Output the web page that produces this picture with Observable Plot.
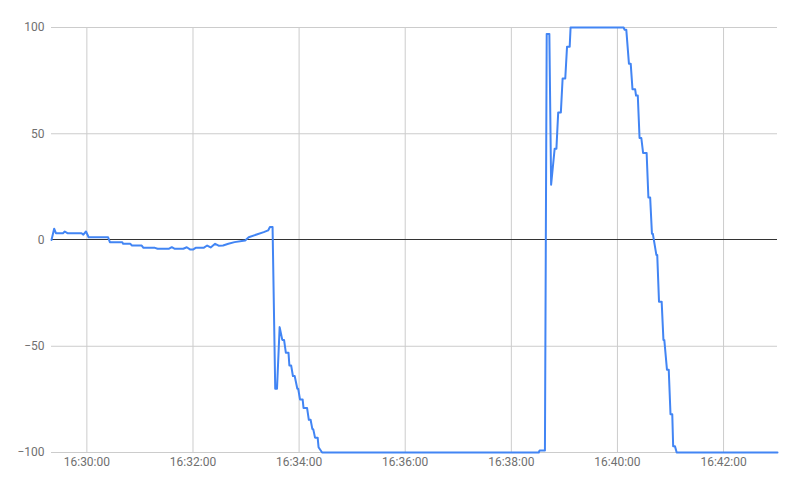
<!DOCTYPE html>
<html>
<head>
<meta charset="utf-8">
<script src="https://cdn.jsdelivr.net/npm/d3@7"></script>
<script src="https://cdn.jsdelivr.net/npm/@observablehq/plot@0.6"></script>
<style>
  html, body { margin: 0; padding: 0; background: #fff; }
  #chart { width: 797px; height: 491px; }
  svg { font-family: Roboto, "Noto Sans", sans-serif; }
</style>
</head>
<body>
<div id="chart"></div>
<script>
// Timestamps (HH:MM:SS) and values
const times = [
  "16:29:20","16:29:23","16:29:25","16:29:33","16:29:35","16:29:38","16:29:54","16:29:56","16:29:59","16:30:02",
  "16:30:24","16:30:26","16:30:40","16:30:41","16:30:49","16:30:51","16:31:02","16:31:04","16:31:17","16:31:20",
  "16:31:33","16:31:36","16:31:39","16:31:49","16:31:53","16:31:57","16:32:00","16:32:03","16:32:12","16:32:16",
  "16:32:20","16:32:25","16:32:29","16:32:34","16:32:40","16:32:47","16:32:59","16:33:03","16:33:12","16:33:20",
  "16:33:25","16:33:27","16:33:30","16:33:33","16:33:35","16:33:38","16:33:41","16:33:43","16:33:45","16:33:48",
  "16:33:49","16:33:51","16:33:53","16:33:55","16:33:58","16:33:59","16:34:01","16:34:04","16:34:05","16:34:09",
  "16:34:11","16:34:13","16:34:15","16:34:16","16:34:18","16:34:21","16:34:22","16:34:26","16:38:31","16:38:32",
  "16:38:38","16:38:40","16:38:43","16:38:45","16:38:49","16:38:51","16:38:53","16:38:56","16:38:58","16:39:01",
  "16:39:03","16:39:06","16:39:07","16:40:07","16:40:08","16:40:10","16:40:13","16:40:15","16:40:17","16:40:20",
  "16:40:21","16:40:23","16:40:25","16:40:27","16:40:29","16:40:33","16:40:35","16:40:37","16:40:39","16:40:40",
  "16:40:44","16:40:45","16:40:47","16:40:50","16:40:52","16:40:53","16:40:56","16:40:58","16:41:00","16:41:02",
  "16:41:03","16:41:05","16:41:07","16:43:01"
];
const values = [
  0, 5.3, 3.2, 3.2, 4, 3.2, 3.2, 2.5, 4, 1.3,
  1.3, -1, -1, -1.8, -1.8, -2.6, -2.6, -3.7, -3.7, -4.1,
  -4.1, -3.4, -4.1, -4.1, -3.4, -4.5, -4.5, -3.7, -3.7, -2.6,
  -3.5, -1.8, -2.7, -2.6, -1.8, -1, -0.2, 1.3, 2.6, 3.7,
  4.5, 6.1, 6.1, -70, -70, -41, -47, -47, -53, -53,
  -59, -59, -64, -64, -70, -70, -75, -75, -79, -79,
  -84.6, -84.6, -89, -89, -93, -93, -97.5, -100, -100, -99,
  -99, 97, 97, 26, 43, 43, 60, 60, 76, 76,
  91, 91, 100, 100, 99, 99, 83, 83, 71, 71,
  68, 68, 48, 48, 41, 41, 20, 20, 3, 3,
  -7, -7, -29, -29, -47, -47, -61, -61, -82, -82,
  -97, -97, -100, -100
];
const yTicks = [-100, -50, 0, 50, 100];
const tickFormat = "%H:%M:%S";

const toDate = s => {
  const [h, m, sec] = s.split(":").map(Number);
  return new Date(2020, 0, 1, h, m, sec);
};
const data = times.map((t, i) => ({date: toDate(t), value: values[i]}));
const xDomain = d3.extent(data, d => d.date);
const xTicks = d3.timeMinute.every(2).range(xDomain[0], xDomain[1]);
const fmt = d3.timeFormat(tickFormat);

const chart = Plot.plot({
  width: 797,
  height: 491,
  marginLeft: 51,
  marginRight: 20,
  marginTop: 27,
  marginBottom: 39,
  style: {fontFamily: "Roboto, sans-serif", fontSize: "12px", color: "#707070", background: "#fff"},
  x: {type: "time", domain: xDomain},
  y: {domain: [-100, 100]},
  marks: [
    Plot.gridX(xTicks, {stroke: "#cccccc", strokeOpacity: 1}),
    Plot.gridY(yTicks.filter(v => v !== 0), {stroke: "#cccccc", strokeOpacity: 1}),
    Plot.ruleY([0], {stroke: "#333333", strokeWidth: 1, dy: -0.5}),
    Plot.axisY(yTicks, {tickSize: 0, tickPadding: 7, label: null, fill: "#707070"}),
    Plot.axisX(xTicks, {tickSize: 0, tickPadding: 5, label: null, tickFormat: fmt, fill: "#707070"}),
    Plot.line(data, {x: "date", y: "value", stroke: "#4285f4", strokeWidth: 2, curve: "linear"})
  ]
});
document.getElementById("chart").appendChild(chart);
</script>
</body>
</html>
